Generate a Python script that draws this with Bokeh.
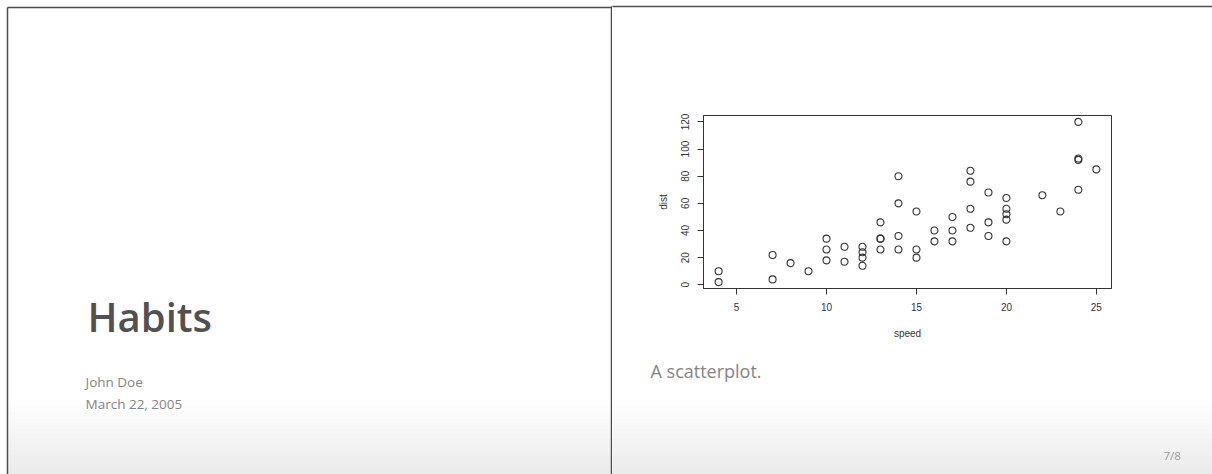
from bokeh.plotting import figure
from bokeh.layouts import row, column
from bokeh.models import Range1d, FixedTicker
from bokeh.core.properties import value
from bokeh.embed import file_html
from bokeh.resources import INLINE

# ---- data (R "cars" scatterplot shown on slide 7) ----
speed = [4, 4, 7, 7, 8, 9, 10, 10, 10, 11, 11, 12, 12, 12, 12, 13, 13, 13, 13, 14,
         14, 14, 14, 15, 15, 15, 16, 16, 17, 17, 17, 18, 18, 18, 18, 19, 19, 19, 20, 20,
         20, 20, 20, 22, 23, 24, 24, 24, 24, 25]
dist = [2, 10, 4, 22, 16, 10, 18, 26, 34, 17, 28, 14, 20, 24, 28, 26, 34, 34, 46, 26,
        36, 60, 80, 20, 26, 54, 32, 40, 32, 40, 50, 42, 56, 76, 84, 36, 46, 68, 32, 48,
        52, 56, 64, 66, 54, 70, 92, 93, 120, 85]
x_ticks = [5, 10, 15, 20, 25]
y_ticks = [0, 20, 40, 60, 80, 100, 120]
x_label = "speed"
y_label = "dist"

title_text = "Habits"
author_text = "John Doe"
date_text = "March 22, 2005"
caption_text = "A scatterplot."
page_text = "7/8"

# ---- page geometry (canvas pixels) ----
W, H = 1212, 474
SPLIT_X = 612            # left panel | right column (seam hidden by divider)
TOP_H, MID_H = 100, 250  # right column: top strip, scatter, bottom strip
FL, FR, FT, FB = 703, 1111, 115, 288   # scatter plot frame edges
LINE = "#4d4d4d"
GREY_TXT = "#858585"


def aux(x_start, x_end, y_start, y_end):
    f = figure(width=x_end - x_start, height=y_end - y_start,
               x_range=Range1d(x_start, x_end), y_range=Range1d(y_end, y_start),
               output_backend="svg", toolbar_location=None, min_border=0,
               x_axis_location=None, y_axis_location=None)
    f.frame_align = False
    f.xgrid.visible = False
    f.ygrid.visible = False
    f.outline_line_color = None
    f.background_fill_color = "white"
    f.border_fill_color = "white"
    return f


def gradient(f, x_start, x_end, g_top=398, g_bot=478, c_end=230):
    ys = list(range(g_top, H + 1))
    cols = []
    for y in ys:
        t = (y - g_top + 0.5) / (g_bot - g_top)
        c = int(round(255 - t * (255 - c_end)))
        cols.append("#%02x%02x%02x" % (c, c, c))
    f.quad(left=[x_start] * len(ys), right=[x_end] * len(ys),
           top=ys, bottom=[y + 1.3 for y in ys],
           fill_color=cols, line_color=None)


def txt(f, text, x, y, size, color, font="Open Sans"):
    f.text(x=[x], y=[y], text=[text], text_font=value(font),
           text_font_size=size, text_font_style="normal", text_color=color,
           text_align="left", text_baseline="alphabetic")


# ---- left panel: title slide + divider ----
left = aux(0, SPLIT_X, 0, H)
gradient(left, 8, SPLIT_X + 3)
left.segment(x0=[7, 7, 611, 611], y0=[7, 7, 6, 6], x1=[611, 7, 611, SPLIT_X + 3],
             y1=[7, H + 2, H + 2, 6], line_color=LINE, line_width=1.5)
txt(left, title_text, 87, 316, "40px", "#515151", font="Open Sans SemiBold")
txt(left, author_text, 85, 381, "13.5px", GREY_TXT)
txt(left, date_text, 85, 403, "13.5px", GREY_TXT)

# ---- right column: top strip ----
top = aux(SPLIT_X, W, 0, TOP_H)
top.segment(x0=[SPLIT_X - 2], y0=[6], x1=[W + 2], y1=[6], line_color=LINE, line_width=1.5)

# ---- right column: scatterplot ----


def pad(lo, hi, f=0.04):
    d = (hi - lo) * f
    return lo - d, hi + d


x0, x1 = pad(min(speed), max(speed))
y0, y1 = pad(min(dist), max(dist))

p = figure(width=W - SPLIT_X, height=MID_H, output_backend="svg", toolbar_location=None,
           x_range=Range1d(x0, x1), y_range=Range1d(y0, y1),
           min_border_left=FL - SPLIT_X, min_border_right=W - FR,
           min_border_top=FT - TOP_H, min_border_bottom=TOP_H + MID_H - FB)
p.frame_align = False
p.background_fill_color = "white"
p.border_fill_color = "white"
p.outline_line_color = "#333333"
p.outline_line_width = 1
p.xgrid.visible = False
p.ygrid.visible = False

p.scatter(speed, dist, size=7, marker="circle", fill_color=None,
          line_color="#333333", line_width=1.1)

AX_FONT = "Liberation Sans"
for ax in (p.xaxis[0], p.yaxis[0]):
    ax.axis_line_color = "#333333"
    ax.major_tick_line_color = "#333333"
    ax.major_tick_out = 6
    ax.major_tick_in = 0
    ax.minor_tick_line_color = None
    ax.major_label_text_font = AX_FONT
    ax.major_label_text_font_size = "10px"
    ax.major_label_text_color = "#333333"
    ax.axis_label_text_font = AX_FONT
    ax.axis_label_text_font_size = "10px"
    ax.axis_label_text_font_style = "normal"
    ax.axis_label_text_color = "#333333"
    ax.major_label_standoff = 8

p.xaxis[0].ticker = FixedTicker(ticks=x_ticks)
p.yaxis[0].ticker = FixedTicker(ticks=y_ticks)
p.xaxis[0].axis_label = x_label
p.yaxis[0].axis_label = y_label
p.xaxis[0].axis_label_standoff = 14
p.yaxis[0].axis_label_standoff = 10
p.yaxis[0].major_label_orientation = "vertical"

# ---- right column: bottom strip ----
bottom = aux(SPLIT_X, W, TOP_H + MID_H, H)
gradient(bottom, SPLIT_X - 3, W + 3)
txt(bottom, caption_text, 650, 370, "18px", GREY_TXT)
txt(bottom, page_text, 1163, 455, "11.5px", "#9a9a9a")

layout = row(left, column(top, p, bottom, spacing=0), spacing=0)
open("out.html", "w").write(file_html(layout, INLINE))
